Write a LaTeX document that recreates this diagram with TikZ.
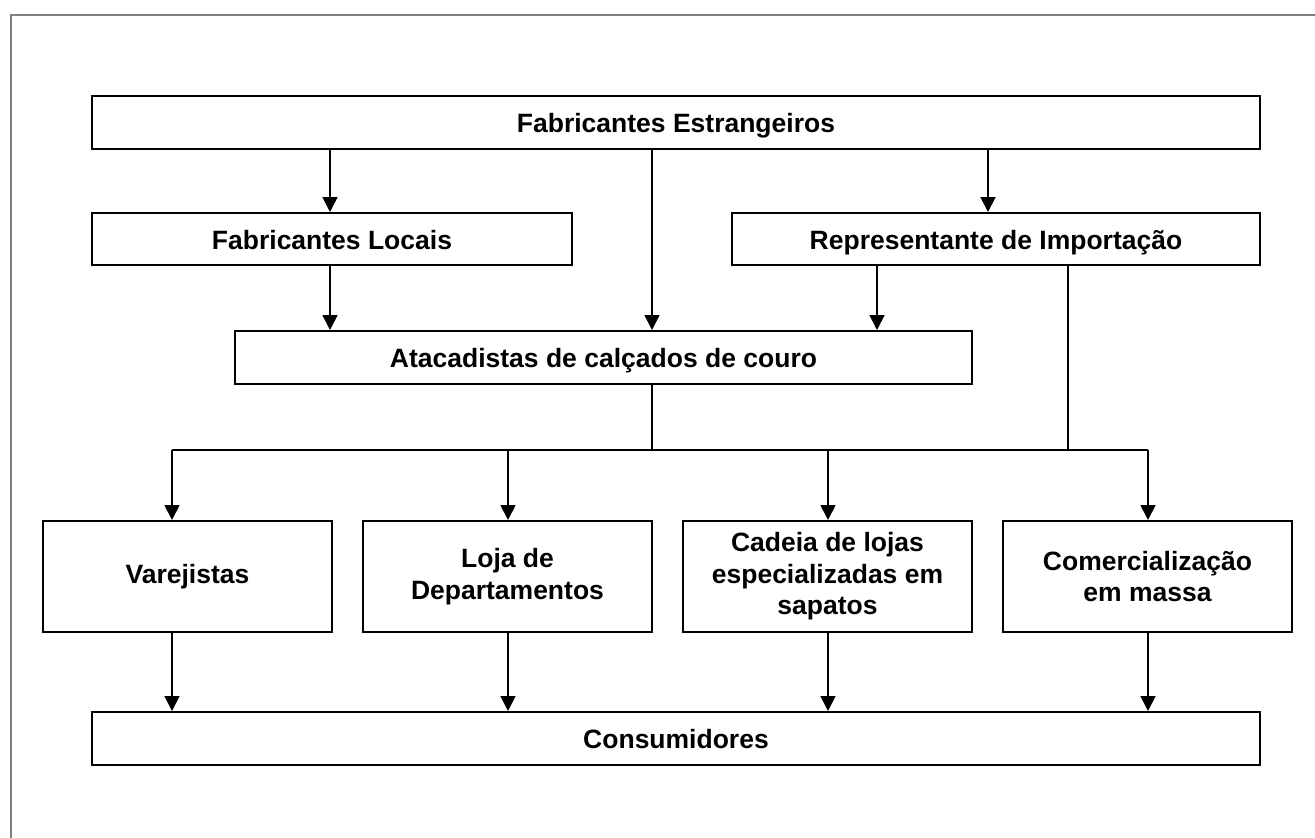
\documentclass[tikz,border=0pt]{standalone}
\usepackage{fontspec}
\setmainfont{Liberation Sans}
\usetikzlibrary{arrows.meta}
\begin{document}
\begin{tikzpicture}[x=1pt,y=-1pt,
  box/.style={draw=black, line width=2pt, fill=white, inner sep=0pt, align=center,
    font=\fontsize{26.5}{31.5}\selectfont\bfseries},
  one/.style={box, text height=22pt, text depth=2pt},
  arr/.style={line width=1.8pt, -{Triangle[length=15pt,width=15pt]}},
  ln/.style={line width=1.8pt}]
\useasboundingbox (0,0) rectangle (1315,838);
\fill[white] (0,0) rectangle (1315,838);
\draw[color={rgb,255:red,128;green,128;blue,128}, line width=2pt] (11,838) -- (11,15) -- (1315,15);

\node[one, minimum width=1168pt, minimum height=53pt] (est) at (676,122.5) {Fabricantes Estrangeiros};
\node[one, minimum width=480pt, minimum height=52pt] (loc) at (332,239) {Fabricantes Locais};
\node[one, minimum width=528pt, minimum height=52pt] (rep) at (996,239) {Representante de Importação};
\node[one, minimum width=737pt, minimum height=53pt] (ata) at (603.5,357.5) {Atacadistas de calçados de couro};
\node[box, minimum width=289pt, minimum height=111pt] (var) at (187.5,576.5) {Varejistas};
\node[box, minimum width=289pt, minimum height=111pt] (loja) at (507.5,576.5) {Loja de\\Departamentos};
\node[box, minimum width=289pt, minimum height=111pt] (cad) at (827.5,576.5) {Cadeia de lojas\\especializadas em\\sapatos};
\node[box, minimum width=289pt, minimum height=111pt] (com) at (1147.5,576.5) {Comercialização\\em massa};
\node[one, minimum width=1168pt, minimum height=53pt] (con) at (676,738.5) {Consumidores};

\coordinate (xA) at (330,0);
\coordinate (xB) at (652,0);
\coordinate (xC) at (988,0);
\coordinate (xD) at (877,0);
\coordinate (xE) at (1068,0);
\coordinate (xV) at (172,0);
\coordinate (xL) at (508,0);
\coordinate (xK) at (828,0);
\coordinate (xM) at (1148,0);
\coordinate (bus) at (0,450);

\draw[arr] (est.south -| xA) -- (loc.north -| xA);
\draw[arr] (est.south -| xB) -- (ata.north -| xB);
\draw[arr] (est.south -| xC) -- (rep.north -| xC);
\draw[arr] (loc.south -| xA) -- (ata.north -| xA);
\draw[arr] (rep.south -| xD) -- (ata.north -| xD);
\draw[ln] (ata.south -| xB) -- (bus -| xB);
\draw[ln] (rep.south -| xE) -- (bus -| xE);
\draw[ln] (bus -| xV) -- (bus -| xM);
\draw[arr] (bus -| xV) -- (var.north -| xV);
\draw[arr] (bus -| xL) -- (loja.north -| xL);
\draw[arr] (bus -| xK) -- (cad.north -| xK);
\draw[arr] (bus -| xM) -- (com.north -| xM);
\draw[arr] (var.south -| xV) -- (con.north -| xV);
\draw[arr] (loja.south -| xL) -- (con.north -| xL);
\draw[arr] (cad.south -| xK) -- (con.north -| xK);
\draw[arr] (com.south -| xM) -- (con.north -| xM);
\end{tikzpicture}
\end{document}
